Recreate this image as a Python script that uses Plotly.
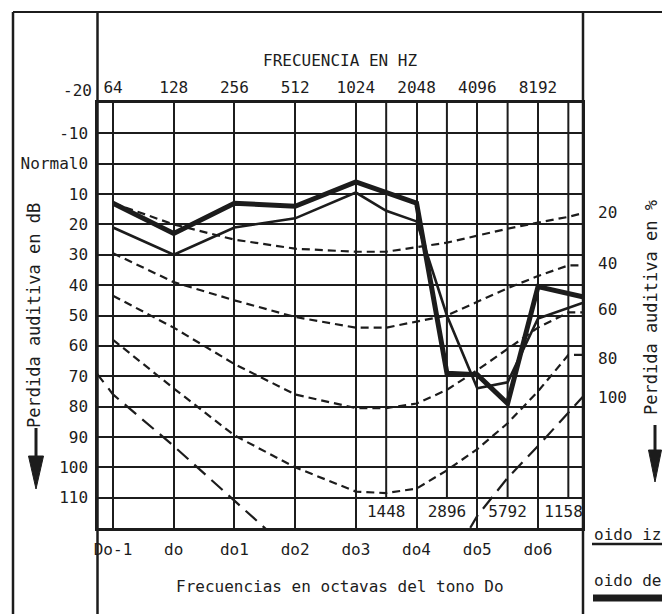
import math
import plotly.graph_objects as go

# ---------------- data ----------------
octave_freqs = [64, 128, 256, 512, 1024, 2048, 4096, 8192]
octave_hz_labels = ["64", "128", "256", "512", "1024", "2048", "4096", "8192"]
octave_do_labels = ["Do-1", "do", "do1", "do2", "do3", "do4", "do5", "do6"]
half_octave_freqs = [1448, 2896, 5792, 11584]
half_octave_labels = ["1448", "2896", "5792", "11584"]

db_tick_vals = [-10, 0, 10, 20, 30, 40, 50, 60, 70, 80, 90, 100, 110]
db_tick_text = ["-10", "Normal0", "10", "20", "30", "40", "50", "60", "70", "80", "90", "100", "110"]

pct_labels = ["20", "40", "60", "80", "100"]
pct_label_db = [16, 33, 48, 64, 77]

# oido derecho (thick)
der_freq = [64, 128, 256, 512, 1024, 2048, 2896, 4096, 5792, 8192, 16384]
der_db = [13, 23, 13, 14, 6, 13, 69, 69.5, 79, 40.5, 45]

# oido izquierdo (thin)
izq_freq = [64, 128, 256, 512, 1024, 1448, 2048, 2896, 4096, 5792, 8192, 16384]
izq_db = [21, 30, 21, 18, 9.5, 15.5, 19, 50, 74, 72, 51, 44]

# percentage-loss contour curves (dashed)
contour_freq = [64, 128, 256, 512, 1024, 1448, 2048, 2896, 4096, 5792, 8192, 11584, 16384]
contour_20 = [13, 20, 25, 28, 29, 29, 27.5, 26, 23.7, 21.4, 19.4, 17.5, 15]
contour_40 = [29.5, 39, 45, 50.5, 54, 54, 52, 50, 45.5, 41, 37, 33.5, 33.5]
contour_60 = [43.5, 54, 66, 76, 80.5, 80.5, 79, 74.5, 68, 61, 54, 49, 49]
contour_80 = [58, 74, 89.5, 100, 108, 108.5, 107, 101, 94, 85.5, 75, 63, 63]
contour_100_freq = [32, 64, 128, 256, 512, None, 2896, 4096, 5792, 8192, 11584, 16384]
contour_100 = [50, 76, 93, 111, 129, None, 133, 116, 103.5, 93, 82, 71]

# ---------------- figure ----------------
INK = "#1c1c1c"
FONT = "DejaVu Sans Mono"

fig = go.Figure()

dash_short = "8px,5px"
dash_long = "15px,8px"
for vals in [contour_20, contour_40, contour_60, contour_80]:
    fig.add_trace(go.Scatter(x=contour_freq, y=vals, mode="lines",
                             line=dict(color=INK, width=2.2, dash=dash_short),
                             hoverinfo="skip", showlegend=False))
fig.add_trace(go.Scatter(x=contour_100_freq, y=contour_100, mode="lines",
                         line=dict(color=INK, width=2.2, dash=dash_long),
                         connectgaps=False, hoverinfo="skip", showlegend=False))

fig.add_trace(go.Scatter(x=izq_freq, y=izq_db, mode="lines",
                         line=dict(color=INK, width=2.6), name="oido izquierdo",
                         showlegend=False))
fig.add_trace(go.Scatter(x=der_freq, y=der_db, mode="lines",
                         line=dict(color=INK, width=5), name="oido derecho",
                         showlegend=False))

# half-octave grid lines (stop at 110 dB) + their labels, on top axis
hx, hy = [], []
for f in half_octave_freqs:
    hx += [f, f, None]
    hy += [-20, 110, None]
fig.add_trace(go.Scatter(x=hx, y=hy, mode="lines", xaxis="x2",
                         line=dict(color=INK, width=2), hoverinfo="skip",
                         showlegend=False))
fig.add_trace(go.Scatter(x=half_octave_freqs, y=[115] * len(half_octave_freqs),
                         mode="text", text=half_octave_labels, xaxis="x2",
                         textfont=dict(family=FONT, size=16, color=INK),
                         cliponaxis=True, hoverinfo="skip", showlegend=False))

xr = [5.753 * math.log10(2), 13.725 * math.log10(2)]

fig.update_layout(
    width=662, height=614,
    margin=dict(l=98, r=80, t=103, b=86),
    paper_bgcolor="white", plot_bgcolor="white",
    font=dict(family=FONT, size=16, color=INK),
    xaxis=dict(type="log", range=xr, tickvals=octave_freqs, ticktext=octave_do_labels,
               showgrid=True, gridcolor=INK, gridwidth=2, zeroline=False,
               showline=True, linecolor=INK, linewidth=2.5, mirror=True,
               ticks="", ticklabelstandoff=5, tickfont=dict(size=16)),
    xaxis2=dict(type="log", range=xr, overlaying="x", side="top", matches="x",
                tickvals=octave_freqs, ticktext=octave_hz_labels, showgrid=False,
                zeroline=False, ticks="", ticklabelstandoff=6,
                tickfont=dict(size=16)),
    yaxis=dict(range=[120, -20], tickvals=db_tick_vals, ticktext=db_tick_text,
               showgrid=True, gridcolor=INK, gridwidth=2, zeroline=False,
               showline=True, linecolor=INK, linewidth=2.5, mirror=True,
               ticks="", ticklabelstandoff=4, tickfont=dict(size=16)),
    showlegend=False,
)

def px_x(px):
    return (px - 98) / 484.0

def px_y(py):
    return (528 - py) / 425.0

def note(text, x, y, xanchor="center", size=16, angle=0, yref="paper", yval=None):
    return dict(text=text, x=px_x(x), y=(px_y(y) if yval is None else yval),
                xref="paper", yref=yref, xanchor=xanchor, yanchor="middle",
                textangle=angle, showarrow=False, font=dict(size=size))

ann = []
ann.append(note("FRECUENCIA EN HZ", 340, 60))
ann.append(note("-20", 94, 90, xanchor="right"))
ann.append(note("Perdida auditiva en dB", 34, 316, size=17, angle=-90))
ann.append(note("Perdida auditiva en %", 651, 308, size=17, angle=-90))
for t, v in zip(pct_labels, pct_label_db):
    ann.append(note(t, 596, 0, xanchor="left", yref="y", yval=v))
ann.append(note("oido iz", 592, 534, xanchor="left"))
ann.append(note("oido de", 592, 580, xanchor="left"))
ann.append(note("Frecuencias en octavas del tono Do", 340, 586))
fig.update_layout(annotations=ann)

shapes = []
def pline(x0, y0, x1, y1, w=2):
    shapes.append(dict(type="line", xref="paper", yref="paper",
                       x0=px_x(x0), y0=px_y(y0), x1=px_x(x1), y1=px_y(y1),
                       line=dict(color=INK, width=w)))

pline(13, 12, 662, 12, 2)       # top border
pline(13, 12, 13, 614, 2.5)     # outer left border
pline(97.5, 12, 97.5, 614, 2.5) # inner left
pline(583, 12, 583, 614, 2.5)   # right divider
pline(36, 428, 36, 460, 3)      # left arrow shaft
pline(655, 425, 655, 452, 3)    # right arrow shaft
pline(592, 544, 662, 544, 2.5)  # oido iz legend
pline(593, 598, 662, 598, 7)    # oido de legend

def tri(cx, ytop, ybot, half):
    return (f"M {px_x(cx-half)} {px_y(ytop)} L {px_x(cx+half)} {px_y(ytop)} "
            f"L {px_x(cx)} {px_y(ybot)} Z")

shapes.append(dict(type="path", xref="paper", yref="paper", path=tri(36, 456, 489, 7.5),
                   fillcolor=INK, line=dict(color=INK, width=1)))
shapes.append(dict(type="path", xref="paper", yref="paper", path=tri(655, 450, 482, 6.5),
                   fillcolor=INK, line=dict(color=INK, width=1)))
fig.update_layout(shapes=shapes)

fig.write_html("out.html")
